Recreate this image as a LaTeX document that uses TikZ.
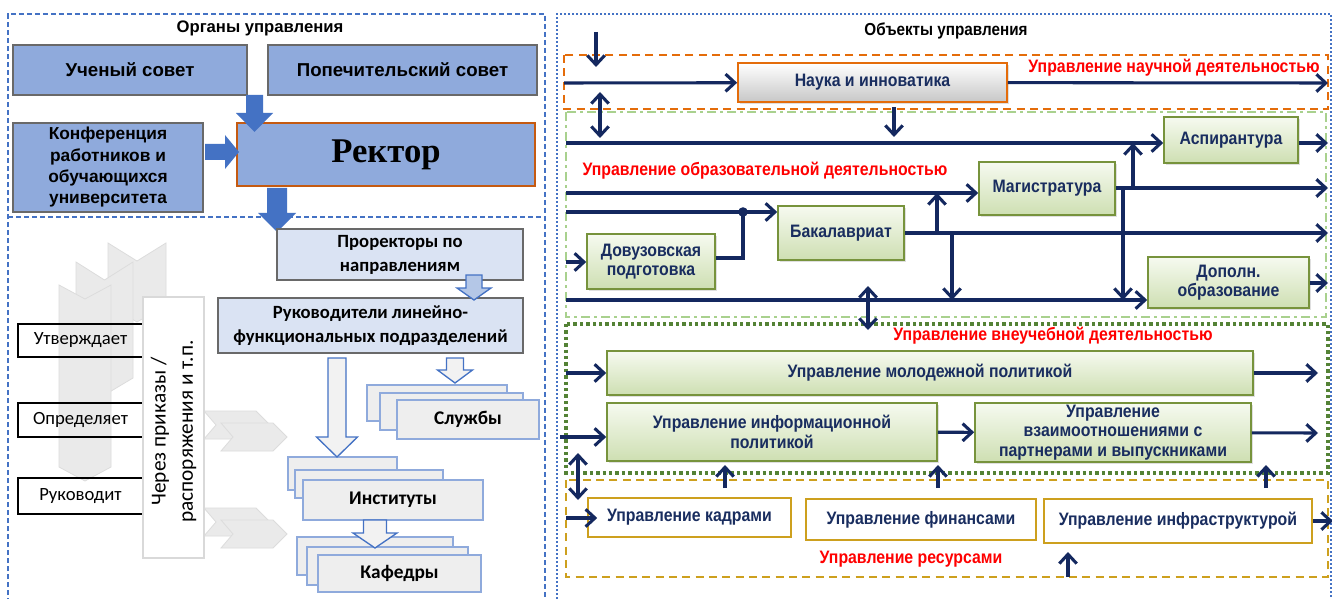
\documentclass[tikz,border=0pt]{standalone}
\usepackage{fontspec}
\setmainfont{Liberation Sans}
\newfontfamily\narrowf[FakeStretch=0.88]{Liberation Sans}
\newfontfamily\calf{Carlito}
\newfontfamily\serf{Liberation Serif}
\usetikzlibrary{arrows.meta,shadows}
\definecolor{bluebox}{RGB}{143,170,220}
\definecolor{blueark}{RGB}{68,114,196}
\definecolor{paleblue}{RGB}{218,227,243}
\definecolor{midblue}{RGB}{180,199,231}
\definecolor{stackf}{RGB}{238,238,238}
\definecolor{stackb}{RGB}{143,170,220}
\definecolor{bordgray}{RGB}{105,105,105}
\definecolor{chevf}{RGB}{234,234,234}
\definecolor{chevd}{RGB}{220,220,220}
\definecolor{navy}{RGB}{20,40,95}
\definecolor{navyt}{RGB}{25,45,95}
\definecolor{orng}{RGB}{228,108,10}
\definecolor{rectb}{RGB}{197,90,17}
\definecolor{lgreen}{RGB}{169,209,142}
\definecolor{dgreen}{RGB}{84,130,53}
\definecolor{gold}{RGB}{205,160,30}
\definecolor{gbord}{RGB}{119,147,60}
\definecolor{gtop}{RGB}{246,250,240}
\definecolor{gbot}{RGB}{206,223,178}
\newcommand\blkdown[7]{\path[#1] (#2-#6,#3) -- (#2+#6,#3) -- (#2+#6,#4) -- (#2+#7,#4) -- (#2,#5) -- (#2-#7,#4) -- (#2-#6,#4) -- cycle;}
\begin{document}
\begin{tikzpicture}[x=0.75pt,y=-0.75pt,
  rect/.style n args={4}{minimum width={(#3-#1)*0.75pt},minimum height={(#4-#2)*0.75pt},
     at={({(#1+#3)/2},{(#2+#4)/2})}},
  nav/.style={draw=navy,line width=2.3pt,-{Straight Barb[length=7pt,width=13pt]}},
  navd/.style={draw=navy,line width=2.3pt,{Straight Barb[length=7pt,width=13pt]}-{Straight Barb[length=7pt,width=13pt]}},
  navl/.style={draw=navy,line width=2.3pt},
  gbox/.style={draw=gbord,line width=1.2pt,top color=gtop,middle color=gtop!65!gbot,bottom color=gbot,inner sep=0pt,align=center,
     font=\narrowf\bfseries\fontsize{13.5}{14.5}\selectfont,text=navyt,
     drop shadow={opacity=0.25,shadow xshift=1.2pt,shadow yshift=-1.2pt}},
  rbox/.style={draw=gold,line width=1.2pt,fill=white,inner sep=0pt,align=center,
     font=\narrowf\bfseries\fontsize{13.5}{14.5}\selectfont,text=navyt},
  lbl/.style={text=red,font=\narrowf\bfseries\fontsize{13.5}{15}\selectfont},
  ttl/.style={font=\bfseries\fontsize{12.5}{14}\selectfont},
  bbox/.style={draw=bordgray,line width=0.9pt,fill=bluebox,inner sep=0pt,align=center,
     font=\bfseries\fontsize{14}{16}\selectfont},
  pbox/.style={draw=bordgray,line width=0.9pt,fill=paleblue,inner sep=0pt,align=center,
     font=\calf\bfseries\fontsize{14}{18}\selectfont},
  sbox/.style={draw=stackb,line width=0.8pt,fill=stackf,inner sep=0pt,
     font=\calf\bfseries\fontsize{14.5}{17}\selectfont},
  tbox/.style={draw=black,line width=1.3pt,inner sep=0pt,font=\calf\fontsize{14}{16}\selectfont},
  chev/.style={fill=chevf,draw=chevd,line width=0.6pt}
]
\useasboundingbox (0,0) rectangle (1332,599);
\fill[white] (0,0) rectangle (1332,599);

%================ LEFT PANEL ================
\draw[blueark,line width=1.2pt,dash pattern=on 4pt off 2pt] (8,603) -- (8,14) -- (545,14) -- (545,603);
\draw[blueark,line width=1.2pt,dash pattern=on 4pt off 2pt] (8,217) -- (545,217);
\node[ttl] (orgt) at (260,28) {Органы управления};

\node[bbox,rect={13}{45}{247}{95}] (us) {Ученый совет};
\node[bbox,rect={268}{45}{537}{95}] (ps) {Попечительский совет};
\node[bbox,rect={13}{123}{203}{212},font=\bfseries\fontsize{13}{16}\selectfont] (konf)
  {Конференция\\работников и\\обучающихся\\университета};
\node[bbox,draw=rectb,line width=1.3pt,rect={237}{123}{535}{186},font=\serf\bfseries\fontsize{26}{28}\selectfont] (rect) {Ректор};

\blkdown{fill=blueark}{254.5}{95}{113}{132}{8.5}{18.5}
\fill[blueark] (205,144) -- (225,144) -- (225,135) -- (239,152) -- (225,169) -- (225,160) -- (205,160) -- cycle;
\blkdown{fill=blueark}{277}{188}{213}{232}{10}{19}

% background chevrons
\path[chev] (108,243) -- (137,261) -- (166,243) -- (166,305) -- (137,322) -- (108,305) -- cycle;
\path[chev] (76,262) -- (104.5,280) -- (133,262) -- (133,378) -- (104.5,395) -- (76,378) -- cycle;
\path[chev] (59,285) -- (85,299) -- (111,285) -- (111,467) -- (85,481) -- (59,467) -- cycle;

\node[tbox,rect={18}{324}{143}{357}] (utv) {Утверждает};
\node[tbox,rect={18}{403}{143}{437}] (opr) {Определяет};
\node[tbox,rect={18}{478}{143}{514}] (rkv) {Руководит};

\path[chev] (204,411) -- (256,411) -- (270,425) -- (256,439) -- (204,439) -- (216,425) -- cycle;
\path[chev] (221,423) -- (273,423) -- (287,437) -- (273,451) -- (221,451) -- (233,437) -- cycle;
\path[chev] (204,508) -- (256,508) -- (270,522) -- (256,536) -- (204,536) -- (216,522) -- cycle;
\path[chev] (221,520) -- (273,520) -- (287,534) -- (273,548) -- (221,548) -- (233,534) -- cycle;

\node[draw=black!15,line width=0.8pt,fill=white,inner sep=0pt,rect={143}{297}{204}{558}] (wr) {};
\node[rotate=90,align=center,font=\calf\fontsize{16}{20.5}\selectfont] (wrt) at ([yshift=-3pt]wr.center) {Через приказы /\\распоряжения и т.п.};

\node[pbox,rect={277}{229}{523}{280}] (pror) {Проректоры по\\направлениям};
\node[pbox,rect={218}{298}{523}{353}] (ruk) {Руководители линейно-\\функциональных подразделений};

\node[sbox,rect={367}{385}{507}{421}] (s1) {};
\node[sbox,rect={380}{393}{523}{430}] (s2) {};
\node[sbox,rect={397}{400}{539}{439}] (s3) {Службы};
\node[sbox,rect={288}{457}{397}{490}] (i1) {};
\node[sbox,rect={295}{470}{443}{498}] (i2) {};
\node[sbox,rect={303}{480}{483}{520}] (i3) {Институты};
\node[sbox,rect={297}{537}{453}{575}] (k1) {};
\node[sbox,rect={307}{547}{468}{585}] (k2) {};
\node[sbox,rect={318}{555}{481}{592}] (k3) {Кафедры};

\blkdown{fill=midblue,draw=blueark,line width=1pt}{474}{275}{288}{300}{8}{17}
\blkdown{fill=black!5,draw=blueark,line width=1pt}{337}{358}{437}{457}{9}{20.5}
\blkdown{fill=black!5,draw=blueark,line width=1pt}{455}{358}{370}{383}{8.5}{17.5}
\blkdown{fill=black!5,draw=blueark,line width=1pt}{375}{520}{533}{548}{11.5}{22}

%================ RIGHT PANEL ================
\draw[blueark,line width=1pt,dash pattern=on 1.5pt off 1.5pt] (557,603) -- (557,14) -- (1331,14) -- (1331,603);
\node[font=\narrowf\bfseries\fontsize{13}{14}\selectfont] (objt) at (946,31) {Объекты управления};

\draw[orng,line width=1.6pt,dash pattern=on 6pt off 4pt] (564,55) rectangle (1328,109);
\draw[lgreen,line width=1.4pt,dash pattern=on 7pt off 3pt on 2pt off 3pt] (566,112) rectangle (1326,317);
\draw[dgreen,line width=3pt,dash pattern=on 2.6pt off 2.2pt] (566,324) rectangle (1328,473);
\draw[gold,line width=1.6pt,dash pattern=on 6pt off 4pt] (566,480) rectangle (1328,577);

\node[draw=orng,line width=1.3pt,top color=white,bottom color=black!22,inner sep=0pt,
  font=\narrowf\bfseries\fontsize{13.5}{14.5}\selectfont,text=navyt,
  drop shadow={opacity=0.25,shadow xshift=1.2pt,shadow yshift=-1.2pt},
  rect={738}{63}{1007}{102}] (nauka) {Наука и инноватика};
\node[lbl] (lsci) at (1174,68) {Управление научной деятельностью};
\node[lbl] (ledu) at (765,171) {Управление образовательной деятельностью};
\node[lbl] (lext) at (1053,336) {Управление внеучебной деятельностью};
\node[lbl] (lres) at (911,559) {Управление ресурсами};

\node[gbox,rect={1164}{117}{1298}{163}] (asp) {Аспирантура};
\node[gbox,rect={979}{162}{1115}{215}] (mag) {Магистратура};
\node[gbox,rect={778}{206}{904}{260}] (bak) {Бакалавриат};
\node[gbox,rect={587}{234}{715}{289}] (dov) {Довузовская\\подготовка};
\node[gbox,rect={1148}{257}{1309}{308}] (dop) {Дополн.\\образование};
\node[gbox,rect={607}{351}{1253}{395}] (mol) {Управление молодежной политикой};
\node[gbox,rect={607}{403}{937}{461}] (info) {Управление информационной\\политикой};
\node[gbox,rect={975}{403}{1251}{462}] (vzm) {Управление\\взаимоотношениями с\\партнерами и выпускниками};
\node[rbox,rect={588}{498}{791}{537}] (kadr) {Управление кадрами};
\node[rbox,rect={806}{499}{1036}{540}] (fin) {Управление финансами};
\node[rbox,rect={1044}{499}{1312}{543}] (infra) {Управление инфраструктурой};

% coordinates for free ends
\coordinate (p1) at (596,32); \coordinate (p2) at (596,67);
\coordinate (nin) at (564,83); \coordinate (nout) at (1328,83);
\coordinate (d1a) at (600,92); \coordinate (d1b) at (600,138);
\coordinate (n2a) at (894,107); \coordinate (n2b) at (894,137);
\coordinate (asin) at (566,143); \coordinate (asout) at (1328,143);
\coordinate (mgin) at (566,193); \coordinate (mgout) at (1328,188);
\coordinate (mu) at (1133,188); \coordinate (md) at (1123,188);
\coordinate (bot) at (566,300);
\coordinate (bkin) at (566,212); \coordinate (dotp) at (743,212);
\coordinate (dvin) at (566,262);
\coordinate (bkout) at (1328,233);
\coordinate (bu) at (937,233); \coordinate (bd) at (952,233);
\coordinate (dpout) at (1328,283);
\coordinate (d2a) at (868,286); \coordinate (d2b) at (868,330);
\coordinate (mlin) at (566,373); \coordinate (mlout) at (1318,373);
\coordinate (ifin) at (560,437); \coordinate (vzout) at (1318,433);
\coordinate (d3a) at (578,453); \coordinate (d3b) at (578,500);
\coordinate (u1a) at (725,488); \coordinate (u1b) at (725,465);
\coordinate (u2a) at (938,488); \coordinate (u2b) at (938,465);
\coordinate (u3a) at (1266,488); \coordinate (u3b) at (1266,465);
\coordinate (kin) at (566,518); \coordinate (ifout) at (1333,520);
\coordinate (u4a) at (1068,577); \coordinate (u4b) at (1068,552);

\draw[nav] (p1) -- (p2);
\draw[nav] (nin) -- (nauka);
\draw[nav] (nauka) -- (nout);
\draw[navd] (d1a) -- (d1b);
\draw[nav] (n2a) -- (n2b);
\draw[nav] (asin) -- (asin -| asp.west);
\draw[nav] (asout -| asp.east) -- (asout);
\draw[nav] (mgin) -- (mgin -| mag.west);
\draw[nav] (mgout -| mag.east) -- (mgout);
\draw[nav] (mu) -- (mu |- asin);
\draw[nav] (md) -- (md |- bot);
\draw[nav] (bkin) -- (bkin -| bak.west);
\fill[navy] (dotp) circle (3.6pt);
\draw[navl] (dov.east |- 0,258) -| (dotp);
\draw[nav] (dvin) -- (dvin -| dov.west);
\draw[nav] (bak.east |- bkout) -- (bkout);
\draw[nav] (bu) -- (bu |- mgin);
\draw[nav] (bd) -- (bd |- bot);
\draw[nav] (bot) -- (bot -| dop.west);
\draw[nav] (dpout -| dop.east) -- (dpout);
\draw[navd] (d2a) -- (d2b);
\draw[nav] (mlin) -- (mol);
\draw[nav] (mol) -- (mlout);
\draw[nav] (ifin) -- (ifin -| info.west);
\draw[nav] (info) -- (vzm);
\draw[nav] (vzm) -- (vzout);
\draw[navd] (d3a) -- (d3b);
\draw[nav] (u1a) -- (u1b);
\draw[nav] (u2a) -- (u2b);
\draw[nav] (u3a) -- (u3b);
\draw[nav] (kin) -- ([xshift=7.5pt]kin -| kadr.west);
\draw[nav] (infra.east) -- (infra.east -| ifout);
\draw[nav] (u4a) -- (u4b);
\end{tikzpicture}
\end{document}
